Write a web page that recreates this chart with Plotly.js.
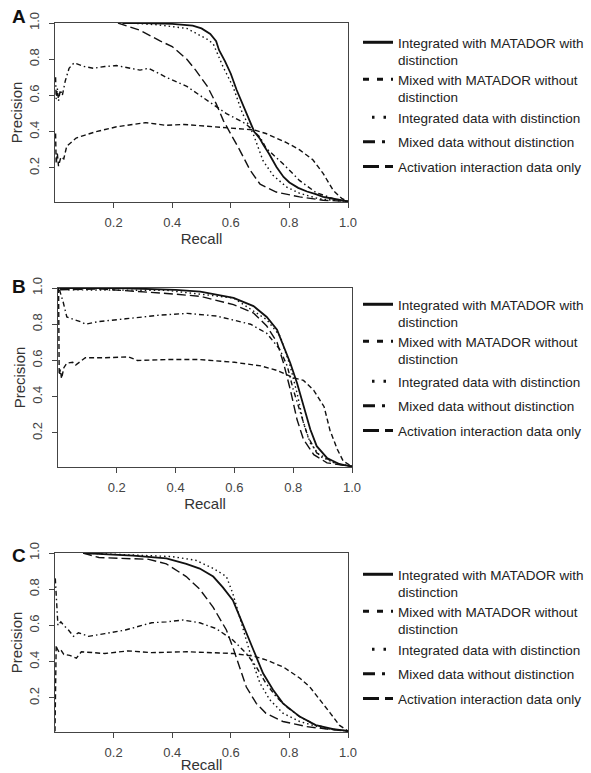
<!DOCTYPE html>
<html>
<head>
<meta charset="utf-8">
<script src="https://cdn.plot.ly/plotly-3.0.1.min.js"></script>
<style>html,body{margin:0;padding:0;background:#fff}#chart{width:591px;height:773px}</style>
</head>
<body>
<div id="chart"></div>
<script>
// ---------- DATA ----------
const seriesNames = [
  "Integrated with MATADOR with<br>distinction",
  "Mixed with MATADOR without<br>distinction",
  "Integrated data with distinction",
  "Mixed data without distinction",
  "Activation interaction data only"
];
const xTicks = [0.2, 0.4, 0.6, 0.8, 1.0];
const xTickText = ["0.2", "0.4", "0.6", "0.8", "1.0"];
const yTicks = [0.2, 0.4, 0.6, 0.8, 1.0];
const yTickText = ["0.2", "0.4", "0.6", "0.8", "1.0"];
const panelLetters = ["A", "B", "C"];

// Panel A
const A_intMatador_x = [0.23,0.30,0.40,0.47,0.50,0.53,0.55,0.56,0.58,0.60,0.62,0.65,0.68,0.70,0.71,0.73,0.756,0.78,0.80,0.83,0.86,0.89,0.915,0.95,0.98,1.0];
const A_intMatador_y = [1.0,1.0,0.995,0.985,0.97,0.94,0.90,0.85,0.79,0.72,0.63,0.52,0.40,0.36,0.33,0.28,0.205,0.15,0.12,0.09,0.07,0.055,0.04,0.03,0.02,0.015];
const A_mixMatador_x = [0.002,0.004,0.008,0.012,0.02,0.03,0.04,0.072,0.10,0.14,0.21,0.27,0.31,0.38,0.44,0.52,0.61,0.68,0.72,0.76,0.79,0.835,0.88,0.915,0.95,0.98,1.0];
const A_mixMatador_y = [0.39,0.225,0.28,0.21,0.26,0.25,0.32,0.365,0.38,0.40,0.427,0.44,0.45,0.435,0.44,0.43,0.42,0.41,0.39,0.36,0.34,0.30,0.245,0.17,0.075,0.03,0.015];
const A_intData_x = [0.25,0.35,0.45,0.52,0.54,0.574,0.608,0.64,0.676,0.71,0.744,0.79,0.835,0.90,0.96,1.0];
const A_intData_y = [1.0,0.99,0.97,0.91,0.885,0.757,0.647,0.50,0.39,0.24,0.16,0.095,0.06,0.03,0.02,0.015];
const A_mixData_x = [0.002,0.004,0.008,0.012,0.018,0.025,0.035,0.048,0.065,0.10,0.13,0.17,0.21,0.24,0.29,0.32,0.38,0.45,0.52,0.585,0.65,0.70,0.72,0.78,0.835,0.89,0.95,1.0];
const A_mixData_y = [0.70,0.58,0.64,0.57,0.63,0.60,0.68,0.75,0.78,0.76,0.75,0.76,0.765,0.755,0.74,0.75,0.70,0.65,0.57,0.50,0.445,0.37,0.31,0.22,0.13,0.065,0.03,0.015];
const A_activation_x = [0.215,0.29,0.36,0.40,0.45,0.48,0.52,0.55,0.575,0.60,0.63,0.665,0.70,0.755,0.835,0.915,1.0];
const A_activation_y = [1.0,0.96,0.90,0.87,0.80,0.74,0.65,0.555,0.46,0.39,0.30,0.19,0.11,0.067,0.04,0.022,0.015];

// Panel B
const B_intMatador_x = [0.005,0.05,0.2,0.4,0.484,0.597,0.665,0.71,0.745,0.767,0.79,0.813,0.835,0.858,0.88,0.915,0.96,1.0];
const B_intMatador_y = [1.0,1.0,1.0,0.99,0.98,0.945,0.90,0.84,0.77,0.68,0.586,0.476,0.35,0.22,0.127,0.062,0.026,0.015];
const B_mixMatador_x = [0.002,0.004,0.008,0.012,0.02,0.03,0.05,0.06,0.093,0.16,0.24,0.27,0.37,0.48,0.60,0.69,0.745,0.80,0.835,0.87,0.905,0.925,0.95,0.97,1.0];
const B_mixMatador_y = [1.0,0.52,0.55,0.50,0.56,0.585,0.59,0.575,0.615,0.615,0.62,0.60,0.605,0.605,0.59,0.57,0.545,0.505,0.49,0.435,0.345,0.215,0.11,0.045,0.015];
const B_intData_x = [0.005,0.03,0.37,0.597,0.71,0.756,0.79,0.813,0.835,0.858,0.892,0.94,1.0];
const B_intData_y = [1.0,0.99,0.987,0.945,0.825,0.733,0.568,0.42,0.255,0.145,0.07,0.035,0.015];
const B_mixData_x = [0.005,0.018,0.03,0.05,0.083,0.093,0.138,0.23,0.345,0.44,0.54,0.655,0.71,0.755,0.78,0.80,0.825,0.85,0.88,0.94,1.0];
const B_mixData_y = [0.99,0.92,0.84,0.83,0.81,0.80,0.815,0.83,0.85,0.86,0.845,0.80,0.75,0.66,0.568,0.44,0.31,0.18,0.09,0.035,0.015];
const B_activation_x = [0.007,0.143,0.37,0.484,0.597,0.665,0.71,0.745,0.767,0.79,0.813,0.835,0.87,0.915,1.0];
const B_activation_y = [0.99,0.995,0.97,0.954,0.908,0.862,0.79,0.70,0.586,0.44,0.274,0.164,0.08,0.035,0.015];

// Panel C
const C_intMatador_x = [0.096,0.266,0.38,0.448,0.494,0.54,0.573,0.607,0.63,0.664,0.687,0.71,0.744,0.778,0.835,0.89,0.95,1.0];
const C_intMatador_y = [1.0,0.985,0.97,0.94,0.914,0.87,0.81,0.74,0.65,0.52,0.43,0.336,0.245,0.17,0.097,0.05,0.028,0.018];
const C_mixMatador_x = [0.0,0.002,0.004,0.008,0.015,0.022,0.03,0.05,0.073,0.09,0.17,0.25,0.33,0.45,0.61,0.68,0.72,0.78,0.835,0.87,0.905,0.94,0.97,1.0];
const C_mixMatador_y = [0.016,0.30,0.49,0.47,0.45,0.46,0.44,0.435,0.42,0.455,0.445,0.46,0.45,0.455,0.445,0.43,0.41,0.37,0.31,0.26,0.19,0.115,0.05,0.017];
const C_intData_x = [0.096,0.27,0.40,0.48,0.54,0.585,0.607,0.63,0.653,0.676,0.70,0.733,0.778,0.835,0.915,1.0];
const C_intData_y = [1.0,0.99,0.98,0.96,0.915,0.87,0.776,0.648,0.52,0.39,0.28,0.19,0.116,0.07,0.033,0.017];
const C_mixData_x = [0.001,0.003,0.006,0.01,0.02,0.03,0.046,0.063,0.08,0.114,0.17,0.24,0.33,0.38,0.437,0.494,0.55,0.607,0.653,0.687,0.72,0.755,0.79,0.835,0.89,0.95,1.0];
const C_mixData_y = [0.86,0.79,0.73,0.60,0.62,0.60,0.575,0.54,0.56,0.54,0.555,0.575,0.615,0.62,0.63,0.615,0.583,0.52,0.446,0.372,0.28,0.207,0.152,0.097,0.05,0.027,0.017];
const C_activation_x = [0.096,0.15,0.32,0.38,0.448,0.494,0.54,0.585,0.607,0.63,0.653,0.687,0.72,0.778,0.858,0.95,1.0];
const C_activation_y = [1.0,0.975,0.965,0.94,0.87,0.80,0.70,0.575,0.48,0.37,0.26,0.17,0.115,0.07,0.042,0.024,0.017];

// ---------- STYLE ----------
const W = 591, H = 773;
const FONT = "Liberation Sans, Arial, Helvetica, sans-serif";
const panels = [
  {l:55, r:348, t:23,  b:202, letterY:16,  legTops:[27, 64, 102],
   data:[[A_intMatador_x,A_intMatador_y],[A_mixMatador_x,A_mixMatador_y],[A_intData_x,A_intData_y],[A_mixData_x,A_mixData_y],[A_activation_x,A_activation_y]]},
  {l:58, r:352, t:288, b:467, letterY:286, legTops:[289, 326, 366],
   data:[[B_intMatador_x,B_intMatador_y],[B_mixMatador_x,B_mixMatador_y],[B_intData_x,B_intData_y],[B_mixData_x,B_mixData_y],[B_activation_x,B_activation_y]]},
  {l:55, r:348, t:553, b:732, letterY:555, legTops:[559, 596, 634],
   data:[[C_intMatador_x,C_intMatador_y],[C_mixMatador_x,C_mixMatador_y],[C_intData_x,C_intData_y],[C_mixData_x,C_mixData_y],[C_activation_x,C_activation_y]]}
];
// series k -> legend block within its panel (two wrapped entries get their own block)
const legendBlockOf = [0, 1, 2, 2, 2];
const plotStyles = [
  {dash:"solid", width:1.8},
  {dash:"5px,3px", width:1.4},
  {dash:"1.5px,3px", width:1.4},
  {dash:"5px,3px,1.5px,3px", width:1.4},
  {dash:"9px,4px", width:1.4}
];
const legendStyles = [
  {dash:"solid", width:3},
  {dash:"6px,8px", width:3},
  {dash:"0px,9px,2.5px,9px,2.5px,40px", width:3},
  {dash:"12px,7px,3px,30px", width:3},
  {dash:"16px,6px", width:3}
];

const traces = [];
const layout = {
  width: W, height: H,
  margin: {l:0, r:0, t:0, b:0},
  paper_bgcolor: "#fff", plot_bgcolor: "#fff",
  font: {family: FONT, color: "#222"},
  showlegend: true,
  annotations: []
};

panels.forEach((p, i) => {
  const sfx = i === 0 ? "" : String(i + 1);
  const xa = "x" + sfx, ya = "y" + sfx;
  const legId = b => { const n = 3 * i + b + 1; return n === 1 ? "legend" : "legend" + n; };
  p.data.forEach((d, k) => {
    traces.push({
      type: "scatter", mode: "lines", x: d[0], y: d[1],
      xaxis: xa, yaxis: ya, name: seriesNames[k], showlegend: false,
      line: {color: "#111", width: plotStyles[k].width, dash: plotStyles[k].dash},
      hoverinfo: "skip"
    });
    // legend key (carries no data of its own)
    traces.push({
      type: "scatter", mode: "lines", x: [null], y: [null],
      xaxis: xa, yaxis: ya, name: seriesNames[k], legend: legId(legendBlockOf[k]),
      legendgroup: "g" + i + "_" + k, showlegend: true,
      line: {color: "#111", width: legendStyles[k].width, dash: legendStyles[k].dash},
      hoverinfo: "skip"
    });
  });
  layout["xaxis" + sfx] = {
    domain: [p.l / W, p.r / W], anchor: ya, range: [0, 1],
    tickvals: xTicks, ticktext: xTickText, ticks: "outside", ticklen: 5, tickwidth: 1, tickcolor: "#444",
    showline: true, mirror: true, linecolor: "#444", linewidth: 1.2,
    showgrid: false, zeroline: false, automargin: false, ticklabelstandoff: 3,
    tickfont: {family: FONT, size: 13, color: "#444"},
    title: {text: "Recall", font: {family: FONT, size: 15, color: "#333"}, standoff: 2}
  };
  layout["yaxis" + sfx] = {
    domain: [1 - p.b / H, 1 - p.t / H], anchor: xa, range: [0.012, 1.0],
    tickvals: yTicks, ticktext: yTickText, ticks: "outside", ticklen: 5, tickwidth: 1, tickcolor: "#444",
    tickangle: -90,
    showline: true, mirror: true, linecolor: "#444", linewidth: 1.2,
    showgrid: false, zeroline: false, automargin: false, ticklabelstandoff: 5,
    tickfont: {family: FONT, size: 13, color: "#444"},
    title: {text: "Precision", font: {family: FONT, size: 15, color: "#333"}, standoff: 0}
  };
  p.legTops.forEach((top, b) => {
    layout[legId(b)] = {
      x: 358 / W, xanchor: "left", y: 1 - top / H, yanchor: "top",
      bgcolor: "rgba(0,0,0,0)", borderwidth: 0, valign: "top",
      tracegroupgap: 4, itemwidth: 30,
      font: {family: FONT, size: 13.5, color: "#222"}
    };
  });
  layout.annotations.push({
    text: "<b>" + panelLetters[i] + "</b>", xref: "paper", yref: "paper",
    x: 19 / W, y: 1 - p.letterY / H, xanchor: "center", yanchor: "middle",
    showarrow: false, font: {family: FONT, size: 19, color: "#111"}
  });
});

Plotly.newPlot("chart", traces, layout, {staticPlot: true, displayModeBar: false});
</script>
</body>
</html>
